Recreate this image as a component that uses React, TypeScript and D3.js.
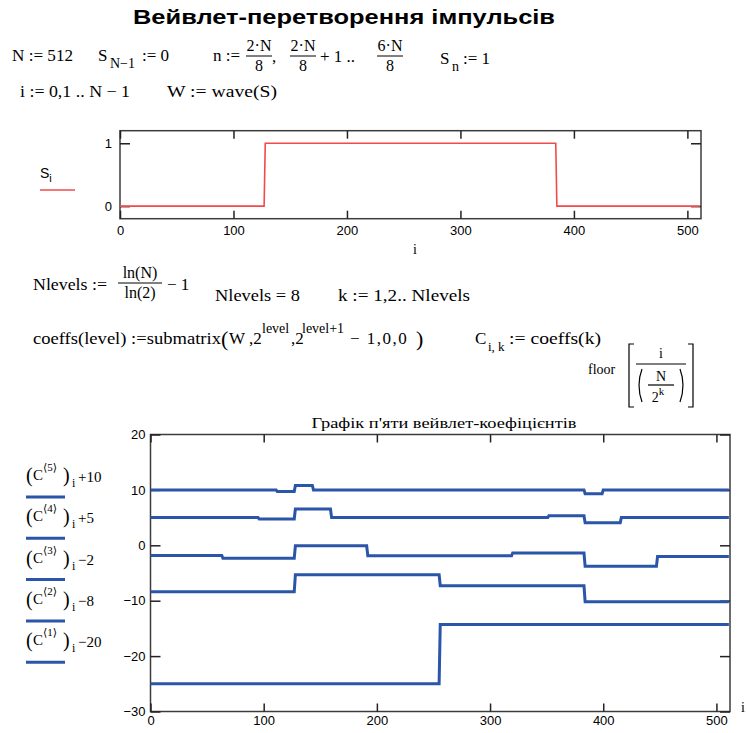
import React, { useEffect, useRef } from 'react';
import * as d3 from 'd3';

const N = 512;
const xTicks = [0, 100, 200, 300, 400, 500];

// S_i : the rectangular pulse (break indices and the level of each piece)
const pulseBreaks = [0, 128, 385, 512];
const pulseLevels = [0, 1, 0];
const pulseYTicks = [0, 1];

// wavelet coefficients, already shifted the way the legend says
const c5Breaks = [0, 112, 128, 144, 384, 400, 512];
const c5Levels = [10, 9.7, 10.8, 10, 9.3, 10];
const c4Breaks = [0, 96, 128, 160, 352, 384, 416, 512];
const c4Levels = [5, 4.75, 6.55, 5, 5.35, 4.05, 5];
const c3Breaks = [0, 64, 128, 192, 320, 384, 448, 512];
const c3Levels = [-1.85, -2.35, -0.1, -1.9, -1.4, -3.8, -2.0];
const c2Breaks = [0, 128, 256, 384, 512];
const c2Levels = [-8.4, -5.3, -7.3, -10.2];
const c1Breaks = [0, 256, 512];
const c1Levels = [-25, -14.3];
const coefYTicks = [-30, -20, -10, 0, 10, 20];

const legendLevels = ['5', '4', '3', '2', '1'];
const legendShifts = ['+10', '+5', '−2', '−8', '−20'];

const serif = '"Liberation Serif", "DejaVu Serif", serif';
const sans = '"Liberation Sans", Arial, sans-serif';

function stepPoints(breaks: number[], levels: number[]) {
    const pts: [number, number][] = [];
    levels.forEach((v, j) => {
        pts.push([breaks[j], v]);
        pts.push([breaks[j + 1] - 1, v]);
    });
    return pts;
}

function frame(g: any, x: any, y: any, yTicks: number[], pad: number, xPad: number) {
    const [x0, x1] = x.range();
    const [y0, y1] = y.range();
    g.append('rect')
        .attr('x', x0).attr('y', y1)
        .attr('width', x1 - x0).attr('height', y0 - y1)
        .attr('fill', 'none').attr('stroke', '#3c3c3c').attr('stroke-width', 1.5);

    const style = (a: any) => {
        a.select('.domain').remove();
        a.selectAll('line').attr('stroke', '#222').attr('stroke-width', 1.5);
        a.selectAll('text').attr('font-family', sans).attr('font-size', 13).attr('fill', '#000');
    };
    g.append('g').attr('transform', `translate(0,${y0})`)
        .call(d3.axisBottom(x).tickValues(xTicks).tickSizeInner(-8).tickSizeOuter(0).tickPadding(xPad))
        .call(style);
    g.append('g').attr('transform', `translate(0,${y1})`)
        .call(d3.axisTop(x).tickValues(xTicks).tickSizeInner(-8).tickSizeOuter(0).tickFormat(() => ''))
        .call(style);
    g.append('g').attr('transform', `translate(${x0},0)`)
        .call(d3.axisLeft(y).tickValues(yTicks).tickSizeInner(-10).tickSizeOuter(0).tickPadding(pad)
            .tickFormat((d: any) => (d < 0 ? '−' + Math.abs(d) : String(d))))
        .call(style);
    g.append('g').attr('transform', `translate(${x1},0)`)
        .call(d3.axisRight(y).tickValues(yTicks).tickSizeInner(-10).tickSizeOuter(0).tickFormat(() => ''))
        .call(style);
}

function Frac({ cx, y, num, den, w, size = 16 }: any) {
    return (
        <g fontFamily={serif} fontSize={size} textAnchor="middle">
            <text x={cx} y={y - 5}>{num}</text>
            <line x1={cx - w / 2} x2={cx + w / 2} y1={y} y2={y} stroke="#000" strokeWidth={1} />
            <text x={cx} y={y + 15}>{den}</text>
        </g>
    );
}

function App() {
    const ref = useRef<SVGGElement>(null);

    useEffect(() => {
        const root = d3.select(ref.current);
        root.selectAll('*').remove();

        // pulse S_i
        const x1 = d3.scaleLinear().domain([0, N]).range([120, 701]);
        const y1 = d3.scaleLinear().domain([-0.2, 1.2]).range([218.7, 130.7]);
        const g1 = root.append('g');
        frame(g1, x1, y1, pulseYTicks, 8, 7);
        const line1 = d3.line<[number, number]>().x(d => x1(d[0])).y(d => y1(d[1]));
        g1.append('path')
            .attr('d', line1(stepPoints(pulseBreaks, pulseLevels)))
            .attr('fill', 'none').attr('stroke', '#f24a4a').attr('stroke-width', 1.6);

        // five wavelet coefficient levels
        const x2 = d3.scaleLinear().domain([0, N]).range([150.5, 730]);
        const y2 = d3.scaleLinear().domain([-30, 20]).range([711.5, 434.5]);
        const g2 = root.append('g');
        frame(g2, x2, y2, coefYTicks, 5, 4);
        const line2 = d3.line<[number, number]>().x(d => x2(d[0])).y(d => y2(d[1]));
        const series = [
            [c5Breaks, c5Levels], [c4Breaks, c4Levels], [c3Breaks, c3Levels],
            [c2Breaks, c2Levels], [c1Breaks, c1Levels],
        ];
        g2.selectAll('path.coef')
            .data(series)
            .enter()
            .append('path')
            .attr('class', 'coef')
            .attr('d', (s: any) => line2(stepPoints(s[0], s[1])))
            .attr('fill', 'none').attr('stroke', '#2a55a8').attr('stroke-width', 3);
    }, []);

    const fit = 'spacingAndGlyphs';

    return (
        <svg width={747} height={733} style={{ position: 'absolute', left: 0, top: 0, background: '#fff' }}>
            <text x={133} y={24} fontFamily={sans} fontWeight="bold" fontSize={21}
                textLength={422} lengthAdjust={fit}>Вейвлет-перетворення імпульсів</text>

            {/* first rows */}
            <g fontFamily={serif} fontSize={17}>
                <text x={12} y={61} textLength={61} lengthAdjust={fit}>N := 512</text>
                <text x={98} y={61}>S</text>
                <text x={110} y={68} fontSize={14}>N−1</text>
                <text x={142} y={61}>:= 0</text>
                <text x={213} y={61}>n :=</text>
                <text x={272} y={62}>,</text>
                <text x={320} y={62}>+ 1 ..</text>
                <text x={440} y={64}>S</text>
                <text x={452} y={71} fontSize={14}>n</text>
                <text x={463} y={64}>:= 1</text>
                <text x={20} y={97} textLength={110} lengthAdjust={fit}>i := 0,1 .. N − 1</text>
                <text x={167} y={97} textLength={110} lengthAdjust={fit}>W := wave(S)</text>
            </g>
            <Frac cx={259} y={56} num="2·N" den="8" w={26} />
            <Frac cx={303} y={56} num="2·N" den="8" w={26} />
            <Frac cx={390} y={56} num="6·N" den="8" w={26} />

            {/* pulse legend */}
            <text x={40} y={178} fontFamily={sans} fontSize={14}>S<tspan fontSize={11} dy={4}>i</tspan></text>
            <line x1={40} x2={75} y1={190} y2={190} stroke="#f24a4a" strokeWidth={1.6} />
            <text x={415} y={254} fontFamily={serif} fontSize={14} textAnchor="middle">i</text>

            {/* levels */}
            <g fontFamily={serif} fontSize={17}>
                <text x={33} y={290} textLength={74} lengthAdjust={fit}>Nlevels :=</text>
                <text x={167} y={290}>− 1</text>
                <text x={215} y={301} textLength={85} lengthAdjust={fit}>Nlevels = 8</text>
                <text x={338} y={301} textLength={132} lengthAdjust={fit}>k := 1,2.. Nlevels</text>
                <text x={33} y={344} textLength={188} lengthAdjust={fit}>coeffs(level) :=submatrix</text>
                <text x={221} y={346} fontSize={22}>(</text>
                <text x={229} y={344}>W ,2</text>
                <text x={262} y={333} fontSize={14}>level</text>
                <text x={291} y={344}>,2</text>
                <text x={302} y={333} fontSize={14}>level+1</text>
                <text x={350} y={344} letterSpacing={1.5}>− 1,0,0</text>
                <text x={416} y={346} fontSize={22}>)</text>
                <text x={475} y={344}>C</text>
                <text x={488} y={351} fontSize={13}>i, k</text>
                <text x={509} y={344} textLength={92} lengthAdjust={fit}>:= coeffs(k)</text>
                <text x={588} y={374} fontSize={14}>floor</text>
            </g>
            <Frac cx={140} y={283} num="ln(N)" den="ln(2)" w={44} />
            <g fill="none" stroke="#000" strokeWidth={1.2}>
                <path d="M634,344 L629,344 L629,407 L634,407" />
                <path d="M688,344 L693,344 L693,407 L688,407" />
                <path d="M642,369 Q636,385 642,402" />
                <path d="M680,369 Q686,385 680,402" />
                <line x1={636} x2={686} y1={364} y2={364} />
                <line x1={648} x2={674} y1={385} y2={385} />
            </g>
            <g fontFamily={serif} fontSize={14} textAnchor="middle">
                <text x={661} y={358}>i</text>
                <text x={661} y={381}>N</text>
                <text x={658} y={402}>2<tspan fontSize={11} dy={-7}>k</tspan></text>
            </g>

            {/* coefficient chart */}
            <text x={444} y={428} fontFamily={serif} fontSize={15} textAnchor="middle"
                textLength={265} lengthAdjust={fit}>Графік п'яти вейвлет-коефіцієнтів</text>
            <text x={741} y={712} fontFamily={serif} fontSize={14}>i</text>
            {legendLevels.map((lv, k) => {
                const b = 480 + k * 41.3;
                return (
                    <g key={lv} fontFamily={serif}>
                        <text x={26} y={b + 2} fontSize={20}>(</text>
                        <text x={33} y={b} fontSize={15}>C</text>
                        <text x={43} y={b - 9} fontSize={11}>⟨{lv}⟩</text>
                        <text x={63} y={b + 2} fontSize={20}>)</text>
                        <text x={72} y={b + 7} fontSize={12}>i</text>
                        <text x={78} y={b + 2} fontSize={15}>{legendShifts[k]}</text>
                        <line x1={26} x2={65} y1={b + 17} y2={b + 17} stroke="#2a55a8" strokeWidth={3} />
                    </g>
                );
            })}
            <g ref={ref}></g>
        </svg>
    );
}

export default App;
